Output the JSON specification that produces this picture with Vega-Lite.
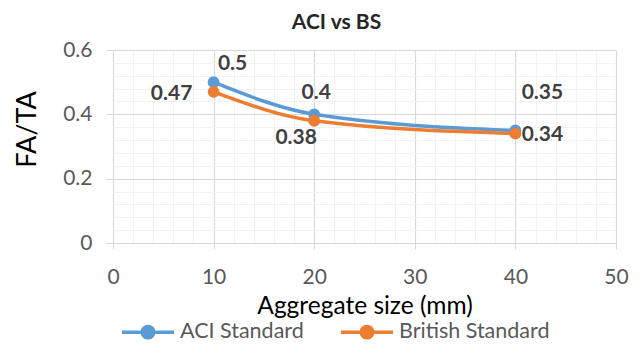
{
  "$schema": "https://vega.github.io/schema/vega-lite/v6.json",
  "width": 503,
  "height": 193,
  "autosize": {"type": "none"},
  "padding": {"left": 113, "top": 50, "right": 27, "bottom": 113},
  "background": "white",
  "config": {"view": {"stroke": null}, "font": "Lato"},
  "title": {"text": "ACI vs BS", "font": "Lato", "fontSize": 21, "fontWeight": "bold", "color": "#262626", "dx": -28, "offset": 0, "baseline": "alphabetic", "dy": 11},
  "data": {"values": [
    {"size": 10, "ratio": 0.5, "series": "ACI Standard"},
    {"size": 20, "ratio": 0.4, "series": "ACI Standard"},
    {"size": 40, "ratio": 0.35, "series": "ACI Standard"},
    {"size": 10, "ratio": 0.47, "series": "British Standard"},
    {"size": 20, "ratio": 0.38, "series": "British Standard"},
    {"size": 40, "ratio": 0.34, "series": "British Standard"}
  ]},
  "encoding": {
    "x": {"field": "size", "type": "quantitative", "scale": {"domain": [0, 50], "nice": false},
      "axis": {
        "values": [0,2,4,6,8,10,12,14,16,18,20,22,24,26,28,30,32,34,36,38,40,42,44,46,48,50],
        "grid": true,
        "gridColor": {"condition": {"test": "datum.value % 10 !== 0", "value": "#f2f2f2"}, "value": "#d9d9d9"},
        "gridWidth": 1.2,
        "tickColor": {"condition": {"test": "datum.value % 10 !== 0", "value": "transparent"}, "value": "#d9d9d9"},
        "tickSize": 6,
        "domainColor": "#d9d9d9",
        "domainWidth": 1.2,
        "labelExpr": "datum.value % 10 === 0 ? datum.label : ''",
        "format": "d",
        "labelOverlap": false,
        "labelFlush": false,
        "labelFont": "Lato",
        "labelFontSize": 21,
        "labelColor": "#595959",
        "labelBaseline": "top",
        "labelPadding": 17,
        "title": "Aggregate size (mm)",
        "titleFont": "Lato",
        "titleFontSize": 24.5,
        "titleFontWeight": "normal",
        "titleColor": "#000000",
        "titleBaseline": "middle",
        "titleY": 63
      }
    },
    "y": {"field": "ratio", "type": "quantitative", "scale": {"domain": [0, 0.6], "nice": false},
      "axis": {
        "values": [0,0.04,0.08,0.12,0.16,0.2,0.24,0.28,0.32,0.36,0.4,0.44,0.48,0.52,0.56,0.6],
        "grid": true,
        "gridColor": {"condition": {"test": "round(datum.value*100) % 20 !== 0", "value": "#f2f2f2"}, "value": "#d9d9d9"},
        "gridWidth": 1.2,
        "tickColor": {"condition": {"test": "round(datum.value*100) % 20 !== 0", "value": "transparent"}, "value": "#d9d9d9"},
        "tickSize": 7,
        "domain": false,
        "format": "~g",
        "labelExpr": "round(datum.value*100) % 20 === 0 ? datum.label : ''",
        "labelOverlap": false,
        "labelFlush": false,
        "labelFont": "Lato",
        "labelFontSize": 21,
        "labelColor": "#595959",
        "labelBaseline": "middle",
        "labelPadding": 14,
        "title": "FA/TA",
        "titleFont": "Lato",
        "titleFontSize": 27,
        "titleFontWeight": "normal",
        "titleColor": "#000000",
        "titleAngle": -90,
        "titleBaseline": "middle",
        "titleAlign": "center",
        "titleX": -86,
        "titleY": 79
      }
    },
    "color": {"field": "series", "type": "nominal",
      "scale": {"domain": ["ACI Standard", "British Standard"], "range": ["#5B9BD5", "#ED7D31"]},
      "legend": {
        "orient": "none", "legendX": 7, "legendY": 254,
        "direction": "horizontal", "title": null,
        "symbolType": "M-1,0H1M0.22,0A0.22,0.22,0,1,1,-0.22,0A0.22,0.22,0,1,1,0.22,0Z",
        "symbolSize": 2704,
        "symbolStrokeWidth": 3.5,
        "symbolOpacity": 1,
        "labelFont": "Lato",
        "labelFontSize": 21.5,
        "labelColor": "#595959",
        "labelOffset": 4,
        "columnPadding": 30
      }
    }
  },
  "layer": [
    {"mark": {"type": "line", "interpolate": "monotone", "strokeWidth": 3.5}},
    {"mark": {"type": "point", "filled": true, "size": 140, "opacity": 1}},
    {"transform": [{"filter": "datum.series === 'ACI Standard' && datum.size === 10"}],
     "mark": {"type": "text", "font": "Lato", "fontWeight": "bold", "fontSize": 21, "dx": 19, "dy": -18, "align": "center", "baseline": "middle"},
     "encoding": {"text": {"field": "ratio", "type": "quantitative", "format": "~g"}, "color": {"value": "#404040"}}},
    {"transform": [{"filter": "datum.series === 'ACI Standard' && datum.size === 20"}],
     "mark": {"type": "text", "font": "Lato", "fontWeight": "bold", "fontSize": 21, "dx": 2, "dy": -21, "align": "center", "baseline": "middle"},
     "encoding": {"text": {"field": "ratio", "type": "quantitative", "format": "~g"}, "color": {"value": "#404040"}}},
    {"transform": [{"filter": "datum.series === 'ACI Standard' && datum.size === 40"}],
     "mark": {"type": "text", "font": "Lato", "fontWeight": "bold", "fontSize": 21, "dx": 27, "dy": -37, "align": "center", "baseline": "middle"},
     "encoding": {"text": {"field": "ratio", "type": "quantitative", "format": "~g"}, "color": {"value": "#404040"}}},
    {"transform": [{"filter": "datum.series === 'British Standard' && datum.size === 10"}],
     "mark": {"type": "text", "font": "Lato", "fontWeight": "bold", "fontSize": 21, "dx": -42, "dy": 2, "align": "center", "baseline": "middle"},
     "encoding": {"text": {"field": "ratio", "type": "quantitative", "format": "~g"}, "color": {"value": "#404040"}}},
    {"transform": [{"filter": "datum.series === 'British Standard' && datum.size === 20"}],
     "mark": {"type": "text", "font": "Lato", "fontWeight": "bold", "fontSize": 21, "dx": -18, "dy": 17, "align": "center", "baseline": "middle"},
     "encoding": {"text": {"field": "ratio", "type": "quantitative", "format": "~g"}, "color": {"value": "#404040"}}},
    {"transform": [{"filter": "datum.series === 'British Standard' && datum.size === 40"}],
     "mark": {"type": "text", "font": "Lato", "fontWeight": "bold", "fontSize": 21, "dx": 27, "dy": 1, "align": "center", "baseline": "middle"},
     "encoding": {"text": {"field": "ratio", "type": "quantitative", "format": "~g"}, "color": {"value": "#404040"}}}
  ]
}
